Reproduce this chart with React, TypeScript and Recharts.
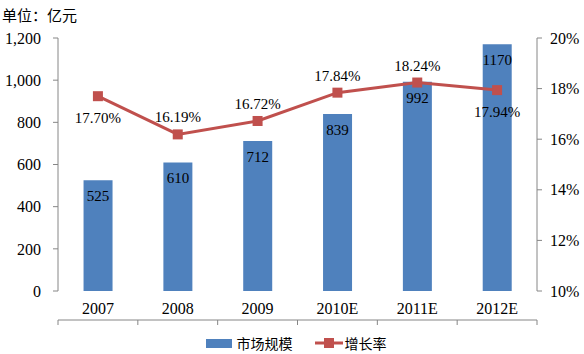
import {
  ComposedChart,
  Bar,
  Line,
  XAxis,
  YAxis,
  Legend,
  LabelList,
} from 'recharts';

const years = ['2007', '2008', '2009', '2010E', '2011E', '2012E'];
const marketSize = [525, 610, 712, 839, 992, 1170];
const growthRate = [17.7, 16.19, 16.72, 17.84, 18.24, 17.94];
const sizeTicks = [0, 200, 400, 600, 800, 1000, 1200];
const rateTicks = [10, 12, 14, 16, 18, 20];
const boundaryTicks = [0, 1, 2, 3, 4, 5, 6];
// whether each growth label sits above (true) or below (false) its point
const rateLabelAbove = [false, true, true, true, true, false];

const data = years.map((year, i) => ({
  year,
  idx: i + 0.5,
  size: marketSize[i],
  rate: growthRate[i],
}));

const BLUE = '#4F81BD';
const RED = '#C0504D';
const AXIS = '#868686';
const FONT = "'Liberation Serif', 'Times New Roman', 'Noto Sans CJK SC', serif";
const CJK = "'Noto Sans CJK SC', sans-serif";

const SquareDot = (props: any) => {
  const { cx, cy, index } = props;
  return <rect key={index} x={cx - 5} y={cy - 5} width={10} height={10} fill={RED} />;
};

const RateLabel = (props: any) => {
  const { x, y, index, value } = props;
  const above = rateLabelAbove[index];
  return (
    <text
      x={x}
      y={above ? y - 12 : y + 27}
      textAnchor="middle"
      fontSize={15}
      fontFamily={FONT}
      fill="#000"
    >
      {`${Number(value).toFixed(2)}%`}
    </text>
  );
};

const LegendContent = () => (
  <div
    style={{
      display: 'flex',
      justifyContent: 'center',
      alignItems: 'center',
      fontFamily: CJK,
      fontSize: 14,
      color: '#000',
      paddingLeft: 8,
      marginTop: 12,
    }}
  >
    <span style={{ display: 'inline-block', width: 26, height: 9, background: BLUE, marginRight: 5 }} />
    <span style={{ marginRight: 22 }}>市场规模</span>
    <svg width={28} height={12} style={{ marginRight: 2 }}>
      <line x1={0} y1={6} x2={28} y2={6} stroke={RED} strokeWidth={3} />
      <rect x={9} y={1} width={10} height={10} fill={RED} />
    </svg>
    <span>增长率</span>
  </div>
);

export default function App() {
  return (
    <div style={{ position: 'absolute', left: 0, top: 0, width: 584, height: 354, background: '#fff' }}>
      <div
        style={{
          position: 'absolute',
          left: 2,
          top: 4,
          fontFamily: CJK,
          fontSize: 15,
          color: '#000',
        }}
      >
        单位：亿元
      </div>
      <ComposedChart
        width={584}
        height={354}
        data={data}
        margin={{ top: 38, right: 0, left: 0, bottom: 0 }}
        barCategoryGap="32%"
      >
        <XAxis
          xAxisId="grid"
          type="number"
          dataKey="idx"
          domain={[0, 6]}
          ticks={boundaryTicks}
          interval={0}
          height={1}
          tickFormatter={() => ''}
          tickSize={5}
          stroke={AXIS}
          axisLine={{ stroke: AXIS }}
          allowDataOverflow
        />
        <XAxis
          dataKey="year"
          height={29}
          tickLine={false}
          axisLine={false}
          tick={{ fontSize: 16, fill: '#000', fontFamily: FONT }}
          tickMargin={6}
        />
        <YAxis
          yAxisId="left"
          width={58}
          domain={[0, 1200]}
          ticks={sizeTicks}
          tickFormatter={(v) => v.toLocaleString('en-US')}
          tick={{ fontSize: 16, fill: '#000', fontFamily: FONT }}
          tickSize={5}
          tickMargin={12}
          stroke={AXIS}
          interval={0}
        />
        <YAxis
          yAxisId="right"
          orientation="right"
          width={47}
          domain={[10, 20]}
          ticks={rateTicks}
          tickFormatter={(v) => `${v}%`}
          tick={{ fontSize: 16, fill: '#000', fontFamily: FONT }}
          tickSize={5}
          tickMargin={8}
          stroke={AXIS}
          interval={0}
        />
        <Legend verticalAlign="bottom" height={33} content={<LegendContent />} />
        <Bar yAxisId="left" dataKey="size" name="市场规模" fill={BLUE} isAnimationActive={false}>
          <LabelList
            dataKey="size"
            position="insideTop"
            offset={10}
            fontSize={15}
            fontFamily={FONT}
            fill="#000"
          />
        </Bar>
        <Line
          yAxisId="right"
          dataKey="rate"
          name="增长率"
          stroke={RED}
          strokeWidth={3}
          dot={<SquareDot />}
          activeDot={false}
          isAnimationActive={false}
        >
          <LabelList dataKey="rate" content={<RateLabel />} />
        </Line>
      </ComposedChart>
    </div>
  );
}
